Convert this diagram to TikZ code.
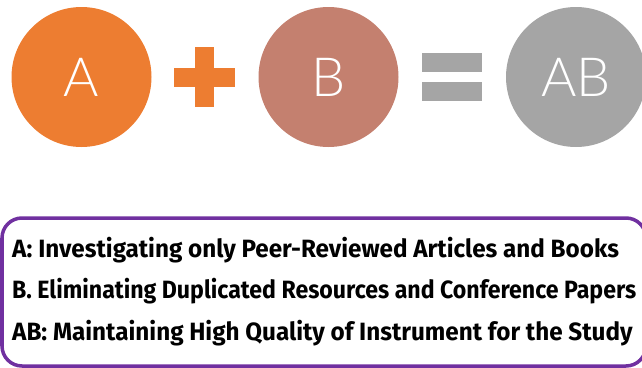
\documentclass[tikz,border=0pt]{standalone}
\usepackage{fontspec}
\usepackage{xcolor}
\usepackage{tikz}
\usetikzlibrary{positioning}
\newfontfamily\ballfont{Lato}[UprightFont={* Light}]
\newfontfamily\notefont{Fira Sans}
\definecolor{setA}{HTML}{ED7D31}
\definecolor{setB}{HTML}{C4806F}
\definecolor{setAB}{HTML}{A5A5A5}
\definecolor{frame}{HTML}{7030A0}

\begin{document}
\begin{tikzpicture}[
    x=1pt,y=-1pt,
    ball/.style={circle,minimum size=140pt,inner sep=0pt,text=white,font=\ballfont\fontsize{54}{54}\selectfont},
    note/.style={anchor=base west,inner sep=0pt,font=\notefont\bfseries\fontsize{25}{25}\selectfont}
]
\useasboundingbox (0,0) rectangle (642,367);
\node[ball,fill=setA] (a) at (81.5,77) {A};
\node[ball,fill=setB] (b) at (328.5,77) {B};
\node[ball,fill=setAB] (ab) at (576,77) {AB};
\fill[setA] (174,68) rectangle (235,87);
\fill[setA] (195,47) rectangle (214,107);
\fill[setAB] (422,53) rectangle (482,72);
\fill[setAB] (422,82) rectangle (482,101);
\draw[frame,line width=3.5pt,rounded corners=20pt] (2,218) rectangle (646,366);
\node[note] (defa) at (12,257) {\scalebox{0.97}[1]{A: Investigating only Peer-Reviewed Articles and Books}};
\node[note] (defb) at (12,298) {\scalebox{0.925}[1]{B. Eliminating Duplicated Resources and Conference Papers}};
\node[note] (defab) at (12,340) {\scalebox{0.97}[1]{AB: Maintaining High Quality of Instrument for the Study}};
\end{tikzpicture}
\end{document}
